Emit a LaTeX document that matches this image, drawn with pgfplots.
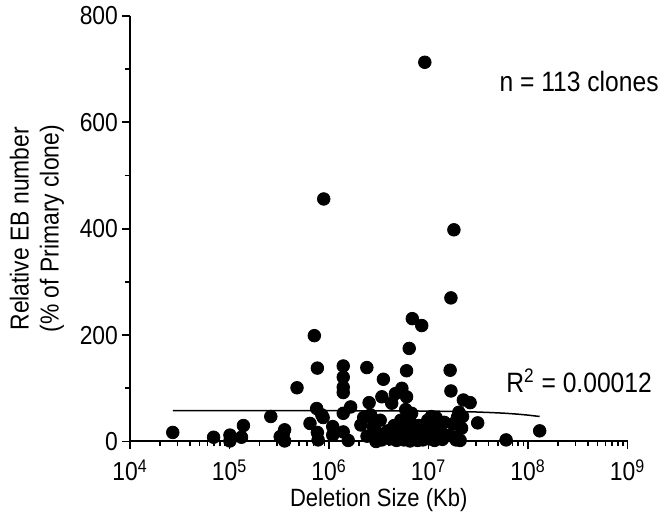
\documentclass[border=0pt]{standalone}
\usepackage{fontspec}
\setmainfont{Liberation Sans}[FakeStretch=0.88]
\usepackage{pgfplots}
\pgfplotsset{compat=1.18}
\begin{document}
\begin{tikzpicture}
\useasboundingbox (0,0) rectangle (334.5pt,258.5pt);
\begin{axis}[
  at={(65pt,37.75pt)}, anchor=south west,
  scale only axis, width=248.75pt, height=212.75pt,
  xmode=log, xmin=1e4, xmax=1e9, ymin=0, ymax=800,
  axis x line*=bottom, axis y line*=left,
  axis line style={line width=1pt},
  every tick/.style={line width=0.9pt, black},
  tick align=outside,
  major tick length=4pt, minor tick length=2.5pt,
  xtick={1e4,1e5,1e6,1e7,1e8,1e9},
  xticklabels={10\textsuperscript{4},10\textsuperscript{5},10\textsuperscript{6},10\textsuperscript{7},10\textsuperscript{8},10\textsuperscript{9}},
  ytick={0,200,400,600,800}, minor ytick={100,300,500,700},
  /pgf/number format/assume math mode=true,
  tick label style={font=\fontsize{13}{15}\selectfont},
  xticklabel style={yshift=-1.5pt},
  yticklabel style={xshift=1.5pt},
  xlabel={Deletion Size (Kb)},
  xlabel style={font=\fontsize{12.5}{15}\selectfont, at={(axis description cs:0.5,-0.137)}, anchor=center},
  ylabel={Relative EB number\\(\% of Primary clone)},
  ylabel style={font=\fontsize{13}{15}\selectfont, align=center, at={(axis description cs:-0.187,0.5)}, anchor=center},
  clip=false,
]
\addplot[black, line width=0.75pt] coordinates {
(2.69e4,58) (1e6,57.9) (5e6,57.6) (1e7,57.2) (2e7,56.3) (3e7,55.5) (4e7,54.6)
(5e7,53.8) (6e7,53) (8e7,51.3) (1e8,49.6) (1.31e8,47)};
\addplot[only marks, mark=*, mark size=3.15pt, black] coordinates {
(2.69e4,17) (6.92e4,8) (1.01e5,12) (1.01e5,1) (1.32e5,8) (1.38e5,30) (2.60e5,47)
(3.23e5,9) (3.58e5,22) (3.58e5,1) (3.47e5,14) (4.77e5,101) (7.12e5,199) (7.64e5,138)
(7.52e5,62) (8.47e5,50) (8.73e5,45) (8.85e5,456) (6.44e5,34) (7.64e5,17) (7.77e5,3)
(1.09e6,28) (1.09e6,12) (1.13e6,20) (1.39e6,142) (1.39e6,121) (1.39e6,102) (1.39e6,92)
(1.39e6,53) (1.39e6,18) (1.65e6,65) (1.56e6,2) (2.09e6,31) (2.40e6,139) (2.53e6,73)
(2.62e6,50) (2.78e6,28) (3.15e6,15) (2.78e6,9) (2.97e6,0) (3.40e6,3) (3.77e6,9)
(3.52e6,117) (3.40e6,84) (4.27e6,72) (4.65e6,90) (5.40e6,100) (6.02e6,84) (6.02e6,133)
(6.40e6,175) (6.87e6,231) (8.55e6,218) (6.77e6,53) (9.18e6,713) (1.07e7,47) (1.65e7,134)
(1.68e7,95) (1.68e7,270) (1.80e7,398) (2.24e7,78) (2.62e7,73) (2.20e7,47) (3.12e7,35)
(1.77e7,33) (2.15e7,25) (6.02e7,3) (1.31e8,20) (1.89e7,3) (2.08e7,2)
(3.90e6,20) (4.14e6,5) (4.40e6,12) (4.52e6,30) (4.77e6,2) (4.90e6,18) (5.14e6,8) (5.27e6,40)
(5.52e6,25) (5.65e6,3) (5.77e6,12) (5.90e6,60) (6.15e6,6) (6.28e6,20) (6.52e6,1) (6.65e6,35)
(6.90e6,10) (7.15e6,4) (7.29e6,22) (7.53e6,14) (7.78e6,2) (8.04e6,30) (8.29e6,8) (8.55e6,18)
(8.80e6,3) (9.05e6,26) (9.44e6,10) (9.82e6,40) (1.02e7,5) (1.06e7,15) (1.10e7,28) (1.15e7,2)
(1.19e7,45) (1.25e7,10) (1.31e7,22) (1.38e7,4) (1.44e7,36) (1.63e7,12) (1.82e7,8)
(1.95e7,45) (2.02e7,55) (3.27e6,40) (2.41e6,10) (2.23e6,45)};
\node[font=\fontsize{14}{16}\selectfont] at (axis cs:3.26e8,676) {n = 113 clones};
\node[font=\fontsize{14}{16}\selectfont] at (axis cs:3.26e8,114) {R\textsuperscript{2} = 0.00012};
\end{axis}
\end{tikzpicture}
\end{document}
